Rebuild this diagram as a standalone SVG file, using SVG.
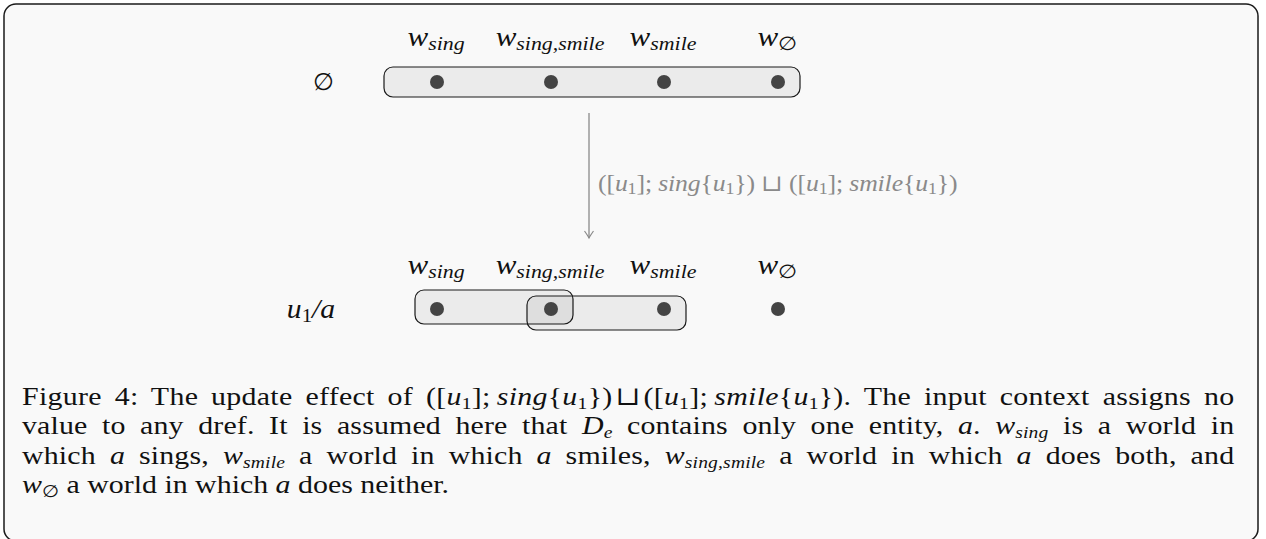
<svg xmlns="http://www.w3.org/2000/svg" width="1266" height="539" viewBox="0 0 1266 539">
<defs>
<style>
.frame{fill:#f9f9f9;stroke:#1a1a1a;stroke-width:1.5}
.set{fill:#000;fill-opacity:0.055;stroke:#1a1a1a;stroke-width:1.2}
.dot{fill:#444}
.lbl{font-family:"Liberation Serif","DejaVu Serif",serif;font-size:27px;font-style:italic;fill:#111}
.sub{font-size:19px}
.cap{font-family:"Liberation Serif","DejaVu Serif",serif;font-size:26px;fill:#111}
.it{font-style:italic}
.rm{font-style:normal}
.s{font-size:17px}
.conn{stroke:#8a8a8a;stroke-width:1.3;fill:none}
.clbl{font-family:"Liberation Serif","DejaVu Serif",serif;font-size:23px;fill:#8a8a8a}
.cs{font-size:16px}
</style>
<marker id="arr" viewBox="-10 -6 12 12" markerWidth="12" markerHeight="12" refX="0" refY="0" orient="auto" markerUnits="userSpaceOnUse">
<path d="M-7,-4.5 Q-2,-1 0,0 Q-2,1 -7,4.5" fill="none" stroke="#8a8a8a" stroke-width="1.2"/>
</marker>
</defs>
<rect width="1266" height="539" fill="#ffffff"/>
<rect class="frame" x="4" y="4" width="1254" height="537" rx="12"/>

<g id="state-empty">
<text x="323" y="90" class="lbl" text-anchor="middle" style="font-style:normal;font-size:24px">∅</text>
<rect class="set" x="384" y="67" width="416" height="30" rx="9"/>
<circle class="dot" cx="437" cy="82" r="7"/>
<circle class="dot" cx="551" cy="82" r="7"/>
<circle class="dot" cx="664" cy="82" r="7"/>
<circle class="dot" cx="778" cy="82" r="7"/>
<text transform="translate(436,46) scale(1.15,1)" class="lbl" text-anchor="middle">w<tspan class="sub" dy="4">sing</tspan></text>
<text transform="translate(550,46) scale(1.15,1)" class="lbl" text-anchor="middle">w<tspan class="sub" dy="4">sing,smile</tspan></text>
<text transform="translate(663,46) scale(1.15,1)" class="lbl" text-anchor="middle">w<tspan class="sub" dy="4">smile</tspan></text>
<text transform="translate(777,46) scale(1.15,1)" class="lbl" text-anchor="middle">w<tspan class="sub rm" dy="4">∅</tspan></text>
</g>

<g id="state-u1a">
<text transform="translate(311,318) scale(1.1,1)" class="lbl" text-anchor="middle">u<tspan class="sub rm" dy="4">1</tspan><tspan dy="-4">/a</tspan></text>
<rect class="set" x="415" y="290" width="158" height="34" rx="9"/>
<rect class="set" x="527" y="296" width="159" height="34" rx="9"/>
<circle class="dot" cx="437" cy="309" r="7"/>
<circle class="dot" cx="551" cy="309" r="7"/>
<circle class="dot" cx="664" cy="309" r="7"/>
<circle class="dot" cx="778" cy="309" r="7"/>
<text transform="translate(436,274) scale(1.15,1)" class="lbl" text-anchor="middle">w<tspan class="sub" dy="4">sing</tspan></text>
<text transform="translate(550,274) scale(1.15,1)" class="lbl" text-anchor="middle">w<tspan class="sub" dy="4">sing,smile</tspan></text>
<text transform="translate(663,274) scale(1.15,1)" class="lbl" text-anchor="middle">w<tspan class="sub" dy="4">smile</tspan></text>
<text transform="translate(777,274) scale(1.15,1)" class="lbl" text-anchor="middle">w<tspan class="sub rm" dy="4">∅</tspan></text>
</g>

<g id="connectors">
<line class="conn" x1="589" y1="113" x2="589" y2="238" marker-end="url(#arr)"/>
<text transform="translate(598,191) scale(1.12,1)" class="clbl" textLength="321" lengthAdjust="spacing">([<tspan class="it">u</tspan><tspan class="cs" dy="3">1</tspan><tspan dy="-3">]; </tspan><tspan class="it">sing</tspan>{<tspan class="it">u</tspan><tspan class="cs" dy="3">1</tspan><tspan dy="-3">}) ⊔ ([</tspan><tspan class="it">u</tspan><tspan class="cs" dy="3">1</tspan><tspan dy="-3">]; </tspan><tspan class="it">smile</tspan>{<tspan class="it">u</tspan><tspan class="cs" dy="3">1</tspan><tspan dy="-3">})</tspan></text>
</g>

<g id="caption" transform="translate(22,0) scale(1.15,1)">
<text x="0" y="405" class="cap" word-spacing="4.5" textLength="1054" lengthAdjust="spacing">Figure 4: The update effect of ([<tspan class="it">u</tspan><tspan class="s" dy="4">1</tspan><tspan dy="-4">];&#8201;</tspan><tspan class="it">sing</tspan>{<tspan class="it">u</tspan><tspan class="s" dy="4">1</tspan><tspan dy="-4">})&#8202;⊔&#8202;([</tspan><tspan class="it">u</tspan><tspan class="s" dy="4">1</tspan><tspan dy="-4">];&#8201;</tspan><tspan class="it">smile</tspan>{<tspan class="it">u</tspan><tspan class="s" dy="4">1</tspan><tspan dy="-4">}). The input context assigns no</tspan></text>
<text x="0" y="434" class="cap" word-spacing="6" textLength="1054" lengthAdjust="spacing">value to any dref. It is assumed here that <tspan class="it">D</tspan><tspan class="s it" dy="4">e</tspan><tspan dy="-4"> contains only one entity, </tspan><tspan class="it">a</tspan>. <tspan class="it">w</tspan><tspan class="s it" dy="4">sing</tspan><tspan dy="-4"> is a world in</tspan></text>
<text x="0" y="464" class="cap" word-spacing="5.5" textLength="1054" lengthAdjust="spacing">which <tspan class="it">a</tspan> sings, <tspan class="it">w</tspan><tspan class="s it" dy="4">smile</tspan><tspan dy="-4"> a world in which </tspan><tspan class="it">a</tspan> smiles, <tspan class="it">w</tspan><tspan class="s it" dy="4">sing,smile</tspan><tspan dy="-4"> a world in which </tspan><tspan class="it">a</tspan> does both, and</text>
<text x="0" y="493" class="cap"><tspan class="it">w</tspan><tspan class="s" dy="4">∅</tspan><tspan dy="-4"> a world in which </tspan><tspan class="it">a</tspan> does neither.</text>
</g>
</svg>
